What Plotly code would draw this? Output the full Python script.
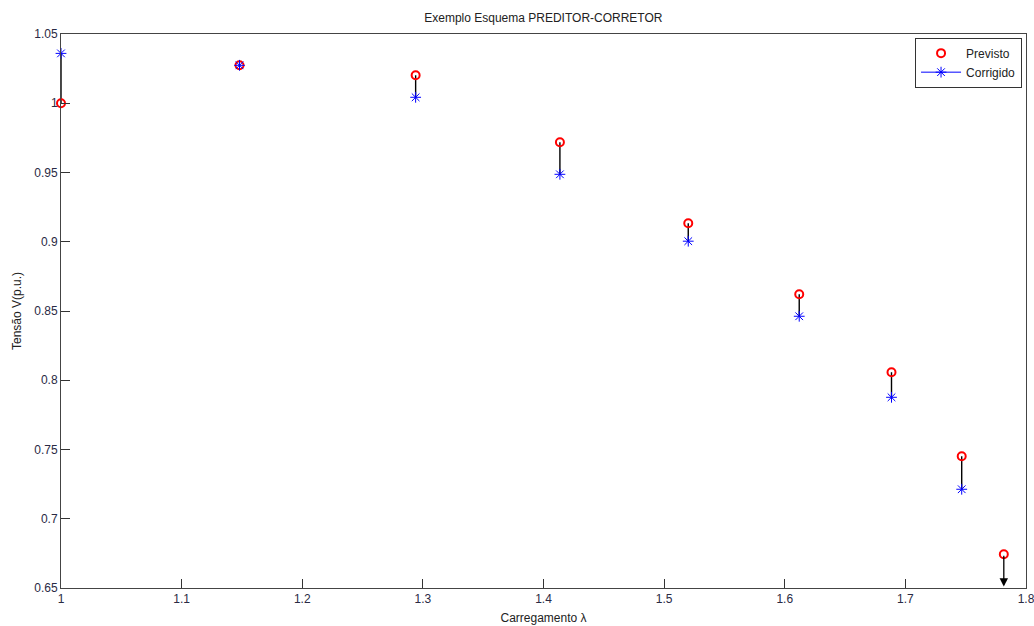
import plotly.graph_objects as go

# Data
lam = [1.0, 1.148, 1.294, 1.4136, 1.520, 1.612, 1.6885, 1.7467, 1.7816]
previsto = [1.000, 1.0274, 1.0202, 0.9718, 0.9134, 0.8621, 0.8058, 0.7451, 0.6744]
corrigido = [1.036, 1.0274, 1.0043, 0.9487, 0.9004, 0.8462, 0.7877, 0.7213]
arrow_end = 0.651

x_ticks = [1.0, 1.1, 1.2, 1.3, 1.4, 1.5, 1.6, 1.7, 1.8]
x_ticktext = ["1", "1.1", "1.2", "1.3", "1.4", "1.5", "1.6", "1.7", "1.8"]
y_ticks = [0.65, 0.7, 0.75, 0.8, 0.85, 0.9, 0.95, 1.0, 1.05]
y_ticktext = ["0.65", "0.7", "0.75", "0.8", "0.85", "0.9", "0.95", "1", "1.05"]

FONT = "Liberation Sans, Arial, sans-serif"
TXT = "#2a2a44"

# connecting segments previsto -> corrigido
seg_x, seg_y = [], []
for i, c in enumerate(corrigido):
    seg_x += [lam[i], lam[i], None]
    seg_y += [previsto[i], c, None]

fig = go.Figure()
fig.add_trace(go.Scatter(x=seg_x, y=seg_y, mode="lines",
                         line=dict(color="black", width=1.4),
                         showlegend=False, hoverinfo="skip"))
fig.add_trace(go.Scatter(x=lam, y=previsto, mode="markers", name="Previsto",
                         cliponaxis=False,
                         marker=dict(symbol="circle-open", size=8,
                                     color="red", line=dict(width=2, color="red"))))
fig.add_trace(go.Scatter(x=lam[:len(corrigido)], y=corrigido, mode="markers",
                         showlegend=False, cliponaxis=False,
                         marker=dict(symbol="asterisk-open", size=9,
                                     color="blue", line=dict(width=1, color="blue"))))
# legend entry for Corrigido (line + asterisk, as in MATLAB legend)
fig.add_trace(go.Scatter(x=[None], y=[None], mode="lines+markers", name="Corrigido",
                         line=dict(color="blue", width=1),
                         marker=dict(symbol="asterisk-open", size=9,
                                     color="blue", line=dict(width=1, color="blue"))))

fig.add_annotation(x=lam[-1], y=arrow_end, ax=lam[-1], ay=previsto[-1],
                   xref="x", yref="y", axref="x", ayref="y",
                   showarrow=True, arrowhead=2, arrowsize=1.3, arrowwidth=1.3,
                   arrowcolor="black", text="")

fig.update_layout(
    width=1034, height=626,
    margin=dict(l=61, r=8, t=34, b=38, autoexpand=False),
    paper_bgcolor="white", plot_bgcolor="white",
    font=dict(family=FONT, size=12, color=TXT),
    title=dict(text="Exemplo Esquema PREDITOR-CORRETOR", x=0.5255, xanchor="center",
               y=0.972, yanchor="middle", font=dict(size=12, color="#222")),
    legend=dict(x=0.9959, xanchor="right", y=0.9934, yanchor="top",
                bordercolor="#333", borderwidth=1, bgcolor="white",
                font=dict(size=12, color="#222"), tracegroupgap=0,
                itemwidth=40),
    showlegend=True,
)
fig.update_xaxes(range=[1.0, 1.8], tickvals=x_ticks, ticktext=x_ticktext,
                 ticks="inside", ticklen=9, tickcolor="#333", automargin=False,
                 ticklabeloverflow="allow",
                 showline=True, linecolor="#444", linewidth=1, mirror=True,
                 showgrid=False, zeroline=False,
                 title=dict(text="Carregamento λ", standoff=8,
                            font=dict(size=12, color="#222")))
fig.update_yaxes(range=[0.65, 1.05], tickvals=y_ticks, ticktext=y_ticktext,
                 ticks="inside", ticklen=9, tickcolor="#333", automargin=False,
                 ticklabeloverflow="allow",
                 showline=True, linecolor="#444", linewidth=1, mirror=True,
                 showgrid=False, zeroline=False,
                 title=dict(text="Tensão V(p.u.)", standoff=10,
                            font=dict(size=12, color="#222")))

fig.write_html("out.html")
